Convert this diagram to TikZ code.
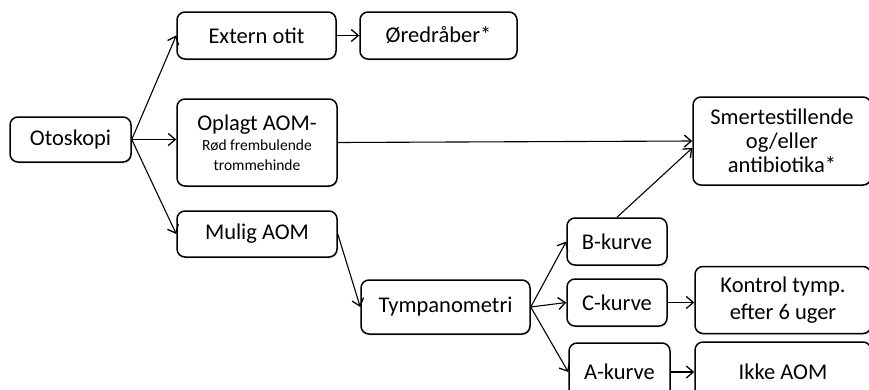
\documentclass[tikz,border=0pt]{standalone}
\usepackage{fontspec}
\setmainfont{Carlito}
\usetikzlibrary{positioning, arrows.meta, shadows}

\begin{document}
\begin{tikzpicture}[x=1pt,y=-1pt,
        box/.style={% For the boxes
            rectangle,
            rounded corners=8pt,
            draw,
            fill=white,
            line width=1.5pt,
            align=center,
            inner sep=0pt,
            drop shadow={opacity=0.2, shadow xshift=1pt, shadow yshift=-1.5pt},
            font=\fontsize{22.5}{24}\selectfont,
            },
        arr/.style={% Open arrows
            -{Straight Barb[length=7pt,width=12pt,line width=1.3pt]},
            line width=1.1pt,
            },
            ]
        \useasboundingbox (0,0) rectangle (869,389);
        % first column
        \node[box, minimum width=121pt, minimum height=45pt] (oto) at (70.5,139.5) {Otoskopi};
        % second column
        \node[box, minimum width=159pt, minimum height=47pt] (ext) at (256.5,35.5) {Extern otit};
        \node[box, minimum width=157pt, minimum height=47pt] (ored) at (438.5,35.5) {Øredråber*};
        \node[box, minimum width=160pt, minimum height=87pt, font=\fontsize{22.5}{20}\selectfont] (oplagt) at (257,142.5)
            {Oplagt AOM-\\{\fontsize{15.5}{20}\selectfont Rød frembulende}\\{\fontsize{15.5}{20}\selectfont trommehinde}};
        \node[box, minimum width=160pt, minimum height=46pt] (mulig) at (257,234) {Mulig AOM};
        % tympanometry
        \node[box, minimum width=169pt, minimum height=54pt] (tymp) at (445.5,307) {Tympanometri};
        \node[box, minimum width=100pt, minimum height=47pt] (bkurve) at (617,241.5) {B-kurve};
        \node[box, minimum width=100pt, minimum height=47pt] (ckurve) at (617,302.5) {C-kurve};
        \node[box, minimum width=101pt, minimum height=58pt] (akurve) at (619.5,372) {A-kurve};
        % last column
        \node[box, minimum width=178pt, minimum height=88pt] (smerte) at (782,141) {Smertestillende\\og/eller\\antibiotika*};
        \node[box, minimum width=176pt, minimum height=67pt, font=\fontsize{22.5}{27}\selectfont] (kontrol) at (783,300) {Kontrol tymp.\\efter 6 uger};
        \node[box, minimum width=176pt, minimum height=60pt] (ikke) at (783,372) {Ikke AOM};
        % arrows
        \draw[arr] (oto.east) -- (ext.west);
        \draw[arr] (oto.east) -- (oplagt.west |- oto.east);
        \draw[arr] (oto.east) -- (mulig.west);
        \draw[arr] (ext) -- (ored);
        \draw[arr] (oplagt.east) -- (smerte.west);
        \draw[arr] (mulig.east) -- (tymp.west);
        \draw[arr] (tymp.east) -- (bkurve.west);
        \draw[arr] (tymp.east) -- (ckurve.west);
        \draw[arr] (tymp.east) -- (akurve.west);
        \draw[arr] (bkurve.north) -- ([yshift=-7pt]smerte.west);
        \draw[arr] (ckurve.east) -- (kontrol.west |- ckurve.east);
        \draw[arr] (akurve) -- (ikke);
\end{tikzpicture}
\end{document}
